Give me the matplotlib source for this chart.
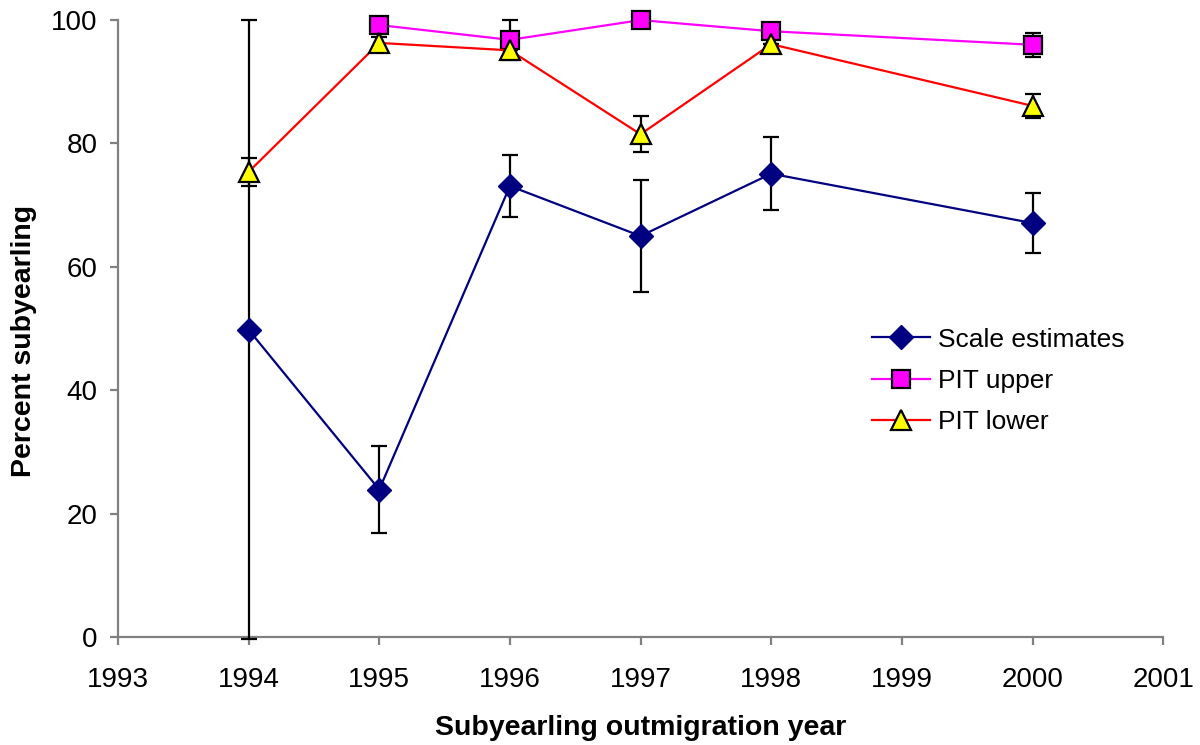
import matplotlib.pyplot as plt

plt.rcParams['font.family'] = ['Liberation Sans', 'DejaVu Sans']

# Scale-based estimates
scale_years = [1994, 1995, 1996, 1997, 1998, 2000]
scale_pct = [49.8, 23.9, 73.1, 65.0, 75.1, 67.1]
scale_err = [50.2, 7.0, 5.0, 9.0, 5.9, 4.9]

# PIT tag upper bound
upper_years = [1995, 1996, 1997, 1998, 2000]
upper_pct = [99.2, 96.8, 100.0, 98.2, 96.0]
upper_err = [0.0, 3.2, 0.0, 0.0, 1.9]

# PIT tag lower bound
lower_years = [1994, 1995, 1996, 1997, 1998, 2000]
lower_pct = [75.4, 96.3, 95.1, 81.5, 96.1, 86.1]
lower_err = [2.3, 0.9, 0.0, 2.9, 0.0, 1.9]

fig = plt.figure(figsize=(12, 7.45), dpi=100)
ax = fig.add_axes([0.0983, 0.145, 0.871, 0.828])

ebar = dict(ecolor='black', elinewidth=1.6, capsize=5.5, capthick=1.6)

containers = []
containers.append(ax.errorbar(
    scale_years, scale_pct, yerr=scale_err, color='#000080', lw=1.6,
    marker='D', markersize=12, markerfacecolor='#000080',
    markeredgecolor='#000080', label='Scale estimates', zorder=3, **ebar))
containers.append(ax.errorbar(
    upper_years, upper_pct, yerr=upper_err, color='#ff00ff', lw=1.6,
    marker='s', markersize=13.5, markerfacecolor='#ff00ff',
    markeredgecolor='black', markeredgewidth=1.6,
    label='PIT upper', zorder=4, **ebar))
containers.append(ax.errorbar(
    lower_years, lower_pct, yerr=lower_err, color='#ff0000', lw=1.6,
    marker='^', markersize=15, markerfacecolor='#ffff00',
    markeredgecolor='black', markeredgewidth=1.6,
    label='PIT lower', zorder=5, **ebar))

# let markers and caps at 0 / 100 draw past the axes edge
for c in containers:
    for art in c.get_children():
        art.set_clip_on(False)

ax.set_xlim(1993, 2001)
ax.set_ylim(0, 100)
ax.set_xticks(range(1993, 2002))
ax.set_yticks(range(0, 101, 20))

for side in ['top', 'right']:
    ax.spines[side].set_visible(False)
for side in ['left', 'bottom']:
    ax.spines[side].set_color('#808080')
    ax.spines[side].set_linewidth(1.6)
ax.tick_params(axis='both', colors='#808080', width=1.6, length=5.5,
               labelcolor='black', labelsize=20)
ax.tick_params(axis='x', pad=16)
ax.tick_params(axis='y', pad=9)

ax.set_xlabel('Subyearling outmigration year', fontsize=20.5, fontweight='bold',
              labelpad=16)
ax.set_ylabel('Percent subyearling', fontsize=20.5, fontweight='bold')
ax.yaxis.set_label_coords(-0.077, 0.48)

handles, labels = ax.get_legend_handles_labels()
handles = [h[0] for h in handles]
ax.legend(handles, labels, loc='upper left', bbox_to_anchor=(0.699, 0.54),
          frameon=False, fontsize=19, handlelength=2.2, labelspacing=0.66,
          handletextpad=0.3)

fig.savefig('out.png', dpi=100)
